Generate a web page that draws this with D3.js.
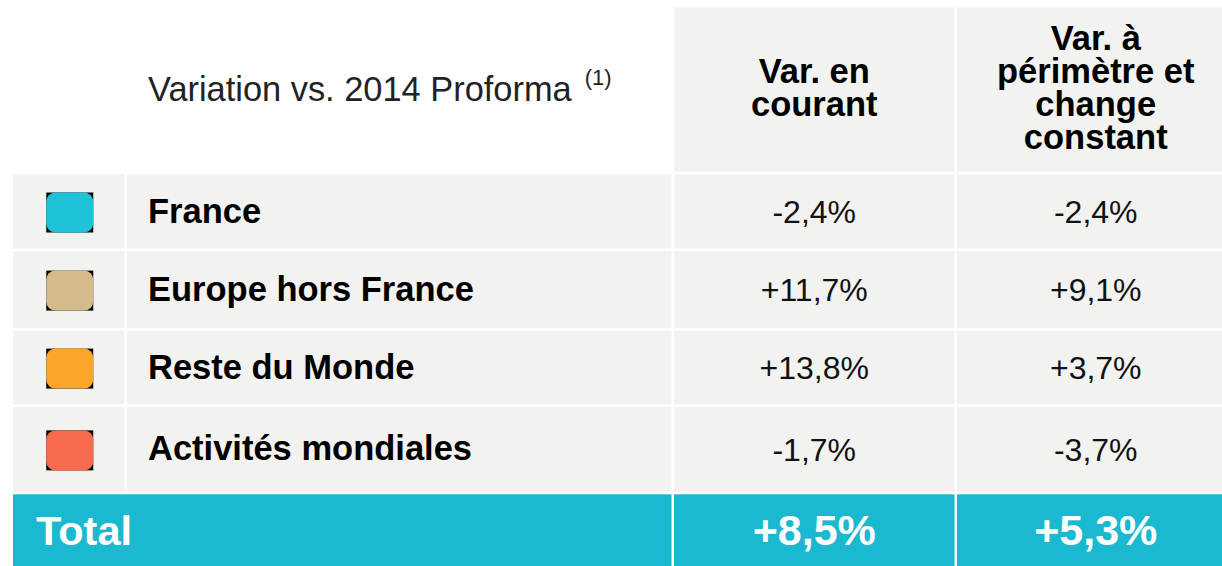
<!DOCTYPE html>
<html>
<head>
<meta charset="utf-8">
<script src="https://cdn.jsdelivr.net/npm/d3@7"></script>
<style>
  html, body { margin: 0; padding: 0; background: #ffffff; }
  svg { display: block; }
  text { font-family: "Liberation Sans", Arial, sans-serif; }
</style>
</head>
<body>
<svg id="chart" width="1222" height="566"></svg>
<script>
// ---- data ----
const title = "Variation vs. 2014 Proforma";
const titleNote = "(1)";
const columnHeaders = [
  ["Var. en", "courant"],
  ["Var. à", "périmètre et", "change", "constant"]
];
const regions = ["France", "Europe hors France", "Reste du Monde", "Activités mondiales"];
const regionColors = ["#1fc3d9", "#d4bb8b", "#fca62b", "#f96b4f"];
const varCourant = ["-2,4%", "+11,7%", "+13,8%", "-1,7%"];
const varConstant = ["-2,4%", "+9,1%", "+3,7%", "-3,7%"];
const totalLabel = "Total";
const totalValues = ["+8,5%", "+5,3%"];

// ---- layout (not data) ----
const W = 1222, H = 566;
const gap = 2.5;
const cellBg = "#f2f2f1";
const totalBg = "#1ab9cf";
// column edges: swatch | label | var courant | var constant
const colEdges = [13, 127, 674, 957, 1237];
const colScale = d3.scaleOrdinal().domain(["swatch", "label", "c1", "c2"]).range([0, 1, 2, 3]);
const colX = k => colEdges[colScale(k)];
const colW = k => colEdges[colScale(k) + 1] - colEdges[colScale(k)] - gap;

const headerTop = 7.3, headerBottom = 171.7;
const rowWeights = [76.5, 79.7, 76.3, 87.3];
const bodyTop = 174.5;
const cum = [0];
rowWeights.forEach((w, i) => cum.push(cum[i] + w));
const yLin = d3.scaleLinear().domain([0, cum[cum.length - 1]]).range([bodyTop, bodyTop + cum[cum.length - 1]]);
const rowY = i => yLin(cum[i]);
const rowH = i => yLin(cum[i + 1]) - yLin(cum[i]) - gap;
const totalTop = yLin(cum[cum.length - 1]);

const svg = d3.select("#chart");

// header cells
const headerG = svg.append("g");
["c1", "c2"].forEach((k, i) => {
  headerG.append("rect")
    .attr("x", colX(k)).attr("y", headerTop)
    .attr("width", colW(k)).attr("height", headerBottom - headerTop)
    .attr("fill", cellBg);
  const lines = columnHeaders[i];
  const lh = 33;
  const cy = (headerTop + headerBottom) / 2 - 2;
  const t = headerG.append("text")
    .attr("text-anchor", "middle")
    .attr("font-weight", "bold")
    .attr("font-size", 34.5)
    .attr("fill", "#000");
  lines.forEach((ln, j) => {
    t.append("tspan")
      .attr("x", colX(k) + colW(k) / 2)
      .attr("y", cy + (j - (lines.length - 1) / 2) * lh)
      .attr("dy", "0.35em")
      .text(ln);
  });
});

// title
const tt = svg.append("text")
  .attr("x", 148).attr("y", (headerTop + headerBottom) / 2 - 1)
  .attr("dy", "0.35em")
  .attr("font-size", 34.4)
  .attr("fill", "#222");
tt.append("tspan").text(title);
tt.append("tspan").attr("font-size", 22).attr("dx", 13).attr("dy", "-0.7em").text(titleNote);

// body rows
const rows = svg.append("g").selectAll("g")
  .data(regions.map((r, i) => ({ region: r, color: regionColors[i], c1: varCourant[i], c2: varConstant[i], i })))
  .join("g");

["swatch", "label", "c1", "c2"].forEach(k => {
  rows.append("rect")
    .attr("x", colX(k)).attr("y", d => rowY(d.i))
    .attr("width", colW(k)).attr("height", d => rowH(d.i))
    .attr("fill", cellBg);
});

const swW = 47, swH = 40;
rows.append("rect")
  .attr("x", colX("swatch") + colW("swatch") / 2 - swW / 2 + 1)
  .attr("y", d => rowY(d.i) + rowH(d.i) / 2 - swH / 2 + 1)
  .attr("width", swW).attr("height", swH)
  .attr("fill", "#000");
rows.append("rect")
  .attr("x", colX("swatch") + colW("swatch") / 2 - swW / 2 + 1)
  .attr("y", d => rowY(d.i) + rowH(d.i) / 2 - swH / 2 + 1)
  .attr("width", swW).attr("height", swH)
  .attr("rx", 9).attr("ry", 9)
  .attr("fill", d => d.color);

rows.append("text")
  .attr("x", 148)
  .attr("y", d => rowY(d.i) + rowH(d.i) / 2 - 1)
  .attr("dy", "0.35em")
  .attr("font-weight", "bold")
  .attr("font-size", 34.5)
  .attr("fill", "#000")
  .text(d => d.region);

["c1", "c2"].forEach(k => {
  rows.append("text")
    .attr("x", colX(k) + colW(k) / 2)
    .attr("y", d => rowY(d.i) + rowH(d.i) / 2)
    .attr("dy", "0.35em")
    .attr("text-anchor", "middle")
    .attr("font-size", 32)
    .attr("fill", "#111")
    .text(d => d[k]);
});

// total row
const totalG = svg.append("g");
totalG.append("rect")
  .attr("x", colX("swatch")).attr("y", totalTop)
  .attr("width", colEdges[2] - colEdges[0] - gap).attr("height", H - totalTop)
  .attr("fill", totalBg);
["c1", "c2"].forEach((k, i) => {
  totalG.append("rect")
    .attr("x", colX(k)).attr("y", totalTop)
    .attr("width", colW(k)).attr("height", H - totalTop)
    .attr("fill", totalBg);
  totalG.append("text")
    .attr("x", colX(k) + colW(k) / 2)
    .attr("y", (totalTop + H) / 2)
    .attr("dy", "0.35em")
    .attr("text-anchor", "middle")
    .attr("font-weight", "bold")
    .attr("font-size", 43)
    .attr("fill", "#fff")
    .text(totalValues[i]);
});
totalG.append("text")
  .attr("x", 36)
  .attr("y", (totalTop + H) / 2)
  .attr("dy", "0.35em")
  .attr("font-weight", "bold")
  .attr("font-size", 41.5)
  .attr("fill", "#fff")
  .text(totalLabel);
</script>
</body>
</html>
